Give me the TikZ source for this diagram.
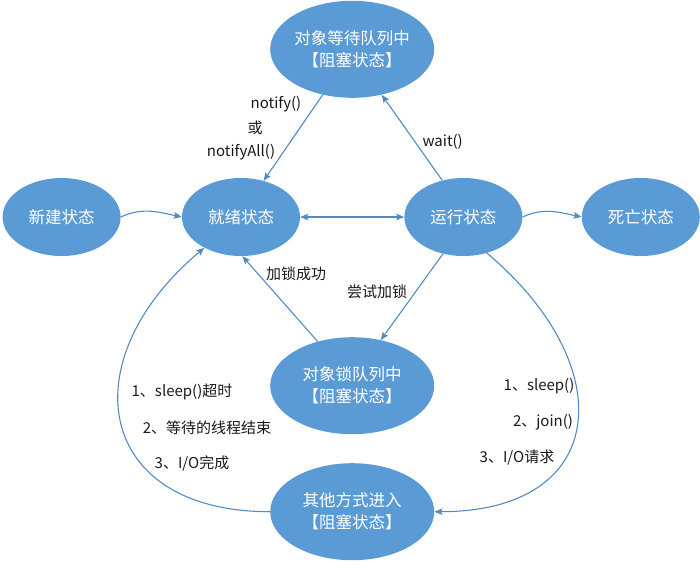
\documentclass[tikz,border=0pt]{standalone}
\usepackage{fontspec}
\setmainfont{Noto Sans CJK SC}
\usetikzlibrary{arrows.meta,positioning,calc,shapes.geometric}
\definecolor{stateblue}{RGB}{91,155,213}
\definecolor{lineblue}{RGB}{84,138,196}
\begin{document}
\begin{tikzpicture}[x=1pt,y=1pt,
				node distance=60pt and 60pt,
				state/.style={ellipse, fill=stateblue, text=white, inner sep=0pt, minimum width=118pt, minimum height=78pt, font=\fontsize{16.5}{22}\selectfont},
				queue/.style={state, align=center, minimum width=164pt, minimum height=97pt},
				lbl/.style={text=black!90, inner sep=1pt, font=\fontsize{15}{18}\selectfont},
				arr/.style={-{Stealth[length=8pt,width=6.5pt,inset=1.5pt]}, lineblue, line width=1.1pt}]
				\useasboundingbox (0,0) rectangle (700,-568);
				\node[state] (ready) at (241,-217) {就绪状态};
				\node[state, left=61pt of ready] (new) {新建状态};
				\node[state, right=104pt of ready] (run) {运行状态};
				\node[state, right=59pt of run] (dead) {死亡状态};
				\coordinate (mid) at ($(ready)!0.5!(run)$);
				\node[queue, above=119pt of mid] (waitq) {对象等待队列中\\【阻塞状态】};
				\node[queue, below=120pt of mid] (lockq) {对象锁队列中\\【阻塞状态】};
				\node[queue, below=246pt of mid] (otherq) {其他方式进入\\【阻塞状态】};
				
				\draw[arr] (new.east) to[out=25,in=168] (ready.west);
				\draw[arr] (run.east) to[out=25,in=168] (dead.west);
				\draw[arr, {Stealth[length=8pt,width=6.5pt,inset=1.5pt]}-{Stealth[length=8pt,width=6.5pt,inset=1.5pt]}] (ready) -- (run);
				\draw[arr] (waitq.237) -- (ready.58);
				\draw[arr] (run.120) -- node[pos=0.45, right=6pt, lbl] {wait()} (waitq.303);
				\draw[arr] (lockq.128) -- (ready.272);
				\draw[arr] (run.241) -- (lockq.58);
				\draw[arr] (otherq.west) to[out=180,in=220,looseness=1.65] (ready.220);
				\draw[arr] (run.303) to[out=320,in=0,looseness=1.7] (otherq.east);
				
				% labels of the transitions
				\node[lbl] (notify) at (276,-104) {notify()};
				\node[lbl] (notifyor) at (255,-128) {或};
				\node[lbl] (notifyall) at (241,-152) {notifyAll()};
				\node[lbl] (lockok) at (296,-274) {加锁成功};
				\node[lbl] (locktry) at (377,-292) {尝试加锁};
				\node[lbl] (wake1) at (182,-392) {1、sleep()超时};
				\node[lbl] (wake2) at (207,-428) {2、等待的线程结束};
				\node[lbl] (wake3) at (192,-463) {3、I/O完成};
				\node[lbl] (block1) at (539,-386) {1、sleep()};
				\node[lbl] (block2) at (543,-422) {2、join()};
				\node[lbl] (block3) at (517,-458) {3、I/O请求};
			\end{tikzpicture}
\end{document}
